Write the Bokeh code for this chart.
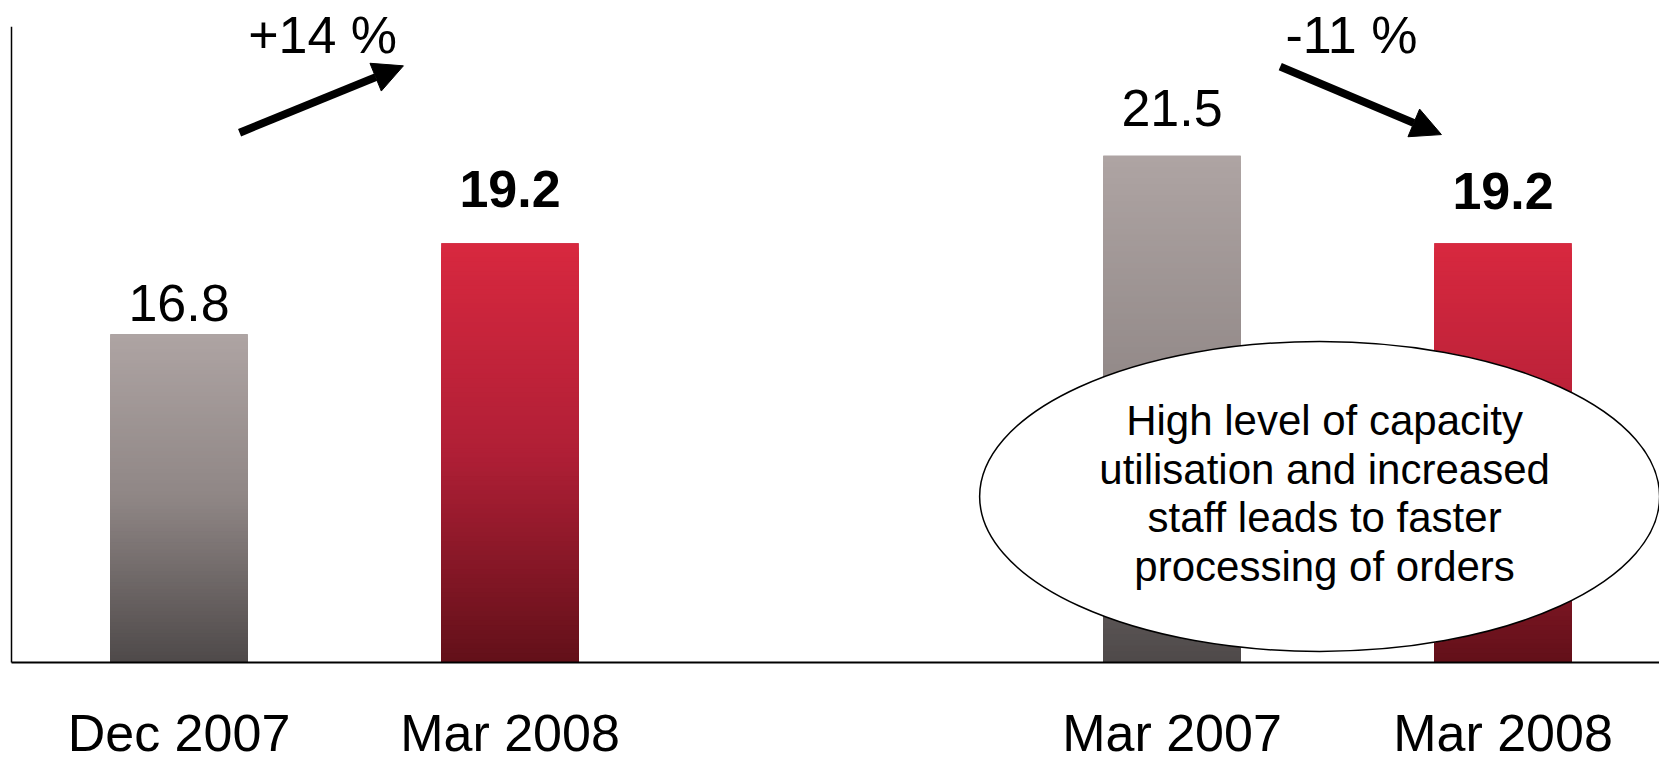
from bokeh.plotting import figure
from bokeh.models import Range1d, ColumnDataSource, Arrow, NormalHead
from bokeh.core.properties import value
from bokeh.embed import file_html
from bokeh.resources import INLINE

# ---- data ----
categories = ["Dec 2007", "Mar 2008", "Mar 2007", "Mar 2008"]
group_index = [0, 1, 3, 4]            # slot of each bar (two groups with a gap)
values = [16.8, 19.2, 21.5, 19.2]
value_labels = ["16.8", "19.2", "21.5", "19.2"]
change_labels = ["+14 %", "-11 %"]
note_text = "High level of capacity\nutilisation and increased\nstaff leads to faster\nprocessing of orders"

# ---- styles / layout ----
FONT = "Liberation Sans"
label_styles = ["normal", "bold", "normal", "bold"]
label_gaps = [13, 36, 30, 34]          # px between bar top and value text
grad_stops = {
    "grey": ["#AEA4A3", "#8F8685", "#4E4949"],
    "red": ["#D8283F", "#B01F36", "#621019"],
}
bar_palette = ["grey", "red", "grey", "red"]
BAR_W = 0.415
Y0, YTOP = 8.16, 24.9                  # axis baseline value and axis top value
PXU = 37.98                            # px per y unit
BASE_FIX = 0.35                        # em shift of bokeh alphabetic baseline

W, H = 1659, 764
XS = -178.5 / 331.0
XE = (W - 178.5) / 331.0
y_start = Y0 - (H - 662) / PXU
y_end = Y0 + 662 / PXU

p = figure(width=W, height=H, output_backend="svg", toolbar_location=None,
           x_range=Range1d(XS, XE), y_range=Range1d(y_start, y_end),
           x_axis_type=None, y_axis_type=None,
           min_border=0, min_border_left=0, min_border_right=0,
           min_border_top=0, min_border_bottom=0)
p.outline_line_color = None
p.grid.visible = False
p.background_fill_color = "white"


def hex2rgb(h):
    h = h.lstrip("#")
    return [int(h[i:i + 2], 16) for i in (0, 2, 4)]


def grad_color(stops, t):
    n = len(stops) - 1
    k = min(int(t * n), n - 1)
    lt = t * n - k
    a, b = hex2rgb(stops[k]), hex2rgb(stops[k + 1])
    c = [round(a[i] + (b[i] - a[i]) * lt) for i in range(3)]
    return "#%02x%02x%02x" % tuple(c)


# bars: base vbar + gradient overlay (each slice runs down to the baseline,
# so the next one paints over it -> no seams)
p.vbar(x=group_index, top=values, bottom=Y0, width=BAR_W,
       fill_color=[grad_stops[c][1] for c in bar_palette], line_color=None)
N = 90
L, R, B, T, C = [], [], [], [], []
for xi, v, pal in zip(group_index, values, bar_palette):
    h = (v - Y0) / N
    for k in range(N):
        L.append(xi - BAR_W / 2)
        R.append(xi + BAR_W / 2)
        T.append(v - k * h)
        B.append(Y0)
        C.append(grad_color(grad_stops[pal], (k + 0.5) / N))
p.quad(left=L, right=R, bottom=B, top=T, fill_color=C, line_color=None)

# axis lines
ax_x = (11 - 178.5) / 331.0
p.segment(x0=[ax_x, ax_x], y0=[Y0, Y0], x1=[ax_x, XE], y1=[YTOP, Y0],
          line_color="black", line_width=[1.5, 2])

# value labels
src = ColumnDataSource(dict(x=group_index, y=values, t=value_labels,
                            st=label_styles,
                            off=[-(g + BASE_FIX * 52) for g in label_gaps]))
p.text(x="x", y="y", text="t", source=src, text_font=value(FONT),
       text_font_size="52px", text_font_style="st", text_align="center",
       text_baseline="alphabetic", y_offset="off", text_color="black")

# change arrows and labels
p.add_layout(Arrow(end=NormalHead(size=30, fill_color="black", line_color="black"),
                   x_start=0.183, y_start=22.11, x_end=0.678, y_end=23.87,
                   line_width=8, line_color="black"))
p.add_layout(Arrow(end=NormalHead(size=30, fill_color="black", line_color="black"),
                   x_start=3.327, y_start=23.85, x_end=3.814, y_end=22.06,
                   line_width=8, line_color="black"))
p.text(x=[0.434, 3.542], y=[24.19, 24.19], text=change_labels,
       text_font=value(FONT), text_font_size="52px", text_align="center",
       text_baseline="alphabetic", y_offset=-BASE_FIX * 52, text_color="black")

# note ellipse
p.ellipse(x=[3.446], y=[Y0 + (662 - 496) / PXU], width=[680], height=[310],
          width_units="screen", height_units="screen", fill_color="white",
          line_color="black", line_width=1.5)
p.text(x=[3.461], y=[Y0 + (662 - 493) / PXU], text=[note_text],
       text_font=value(FONT), text_font_size="42px", text_align="center",
       text_baseline="middle", text_line_height=1.04, text_color="black")

# category labels under the baseline (kept just inside the bottom edge)
p.text(x=group_index, y=[Y0] * 4, text=categories, text_font=value(FONT),
       text_font_size="52px", text_align="center", text_baseline="alphabetic",
       y_offset=89 - BASE_FIX * 52, text_color="black")

open("out.html", "w").write(file_html(p, INLINE))
